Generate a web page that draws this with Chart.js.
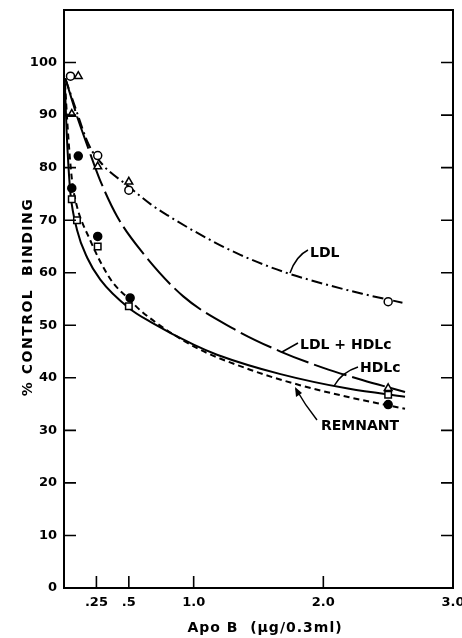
<!DOCTYPE html>
<html>
<head>
<meta charset="utf-8">
<script src="https://cdn.jsdelivr.net/npm/chart.js@4/dist/chart.umd.min.js"></script>
<style>
  body { margin: 0; background: #fff; }
  #grafico { display: block; }
</style>
</head>
<body>
<canvas id="grafico" width="462" height="638"></canvas>
<script>
// Valores (Apo B en ug/0.3ml, % de union control)
const xTicks = [0.25, 0.5, 1.0, 2.0, 3.0];
const xTickLabels = ['.25', '.5', '1.0', '2.0', '3.0'];
const yTicks = [0, 10, 20, 30, 40, 50, 60, 70, 80, 90, 100];
const seriesNames = ['LDL', 'LDL + HDLc', 'HDLc', 'REMNANT'];

// curvas ajustadas
const ldlCurveX = [0.01, 0.1, 0.19, 0.3, 0.49, 0.67, 0.8, 1.1, 1.36, 1.69, 2.0, 2.3, 2.61];
const ldlCurveY = [97, 90.5, 84.4, 80.5, 76.6, 73.0, 70.9, 66.6, 63.4, 60.2, 57.9, 56.0, 54.3];

const mixCurveX = [0.01, 0.05, 0.1, 0.18, 0.28, 0.41, 0.6, 0.92, 1.31, 1.67, 2.0, 2.3, 2.63];
const mixCurveY = [97, 93.8, 89.8, 84.2, 77.5, 70.7, 64.0, 55.5, 49.3, 45.0, 41.9, 39.6, 37.3];

const hdlCurveX = [0.005, 0.02, 0.035, 0.05, 0.1, 0.18, 0.28, 0.5, 0.67, 1.0, 1.18, 1.67, 2.2, 2.63];
const hdlCurveY = [97, 87, 80, 75, 68.2, 62.8, 58.7, 53.3, 50.6, 46.3, 44.4, 40.7, 37.9, 36.4];

const remCurveX = [0.008, 0.03, 0.06, 0.09, 0.2, 0.36, 0.5, 0.6, 1.0, 1.44, 1.82, 2.2, 2.49, 2.63];
const remCurveY = [96, 87, 78, 73.6, 66.3, 58.7, 55.0, 52.6, 46.0, 41.5, 38.6, 36.3, 34.8, 34.1];

// puntos medidos
const ldlX = [0.05, 0.26, 0.5, 2.5];
const ldlY = [97.4, 82.3, 75.7, 54.5];
const mixX = [0.11, 0.06, 0.26, 0.5, 2.5];
const mixY = [97.4, 90.2, 80.2, 77.3, 38.0];
const hdlX = [0.06, 0.1, 0.26, 0.5, 2.5];
const hdlY = [74.0, 70.0, 65.0, 53.6, 36.8];
const remX = [0.06, 0.11, 0.26, 0.51, 2.5];
const remY = [76.1, 82.2, 66.9, 55.2, 34.9];

const pares = (xs, ys) => xs.map((v, i) => ({x: v, y: ys[i]}));

Chart.defaults.font.family = '"DejaVu Sans", sans-serif';
Chart.defaults.color = '#000';

function curva(xs, ys, dash) {
    return {
        data: pares(xs, ys),
        showLine: true,
        borderColor: '#000',
        borderWidth: 2,
        borderDash: dash,
        pointRadius: 0,
        cubicInterpolationMode: 'monotone',
        order: 2
    };
}

function puntos(xs, ys, estilo, relleno, radio) {
    return {
        data: pares(xs, ys),
        showLine: false,
        pointStyle: estilo,
        pointRadius: radio,
        pointBackgroundColor: relleno,
        pointBorderColor: '#000',
        pointBorderWidth: 1.5,
        order: 1
    };
}

// marco, marcas interiores y textos
const marcas = {
    id: 'marcas',
    afterDraw(chart) {
        const {ctx, chartArea: a, scales: {x, y}} = chart;
        ctx.save();
        ctx.strokeStyle = '#000';
        ctx.fillStyle = '#000';
        ctx.lineWidth = 2;
        ctx.strokeRect(a.left, a.top, a.right - a.left, a.bottom - a.top);

        ctx.lineWidth = 1.6;
        ctx.beginPath();
        yTicks.slice(1).forEach(v => {
            const py = y.getPixelForValue(v);
            ctx.moveTo(a.left, py); ctx.lineTo(a.left + 12, py);
            ctx.moveTo(a.right, py); ctx.lineTo(a.right - 12, py);
        });
        xTicks.slice(0, -1).forEach(v => {
            const px = x.getPixelForValue(v);
            ctx.moveTo(px, a.bottom); ctx.lineTo(px, a.bottom - 12);
        });
        ctx.stroke();

        // etiquetas de las curvas
        ctx.font = 'bold 14px "DejaVu Sans"';
        ctx.textBaseline = 'middle';
        ctx.textAlign = 'left';
        ctx.fillText(seriesNames[0], 310, 253);
        ctx.fillText(seriesNames[1], 300, 345);
        ctx.fillText(seriesNames[2], 360, 368);
        ctx.fillText(seriesNames[3], 321, 426);

        ctx.lineWidth = 1.5;
        ctx.beginPath();
        ctx.moveTo(308, 250); ctx.quadraticCurveTo(296, 256, 290, 273);
        ctx.moveTo(298, 343); ctx.lineTo(282, 352);
        ctx.moveTo(358, 367); ctx.quadraticCurveTo(342, 372, 334, 386);
        ctx.moveTo(317, 420); ctx.quadraticCurveTo(305, 405, 296, 389);
        ctx.stroke();
        // punta de flecha REMNANT
        ctx.beginPath();
        ctx.moveTo(295, 387); ctx.lineTo(296, 397); ctx.lineTo(302, 393);
        ctx.closePath();
        ctx.fill();

        // titulos de los ejes
        ctx.letterSpacing = '1px';
        ctx.textAlign = 'center';
        ctx.fillText('Apo B  (\u03bcg/0.3ml)', 265, 628);
        ctx.translate(28, 297);
        ctx.rotate(-Math.PI / 2);
        ctx.letterSpacing = '1.5px';
        ctx.fillText('% CONTROL  BINDING', 0, 0);
        ctx.restore();
    }
};

const ctx = document.getElementById('grafico');

new Chart(ctx, {
    type: 'scatter',
    data: {
        datasets: [
            curva(ldlCurveX, ldlCurveY, [11, 4, 2, 4]),
            curva(mixCurveX, mixCurveY, [34, 6]),
            curva(hdlCurveX, hdlCurveY, []),
            curva(remCurveX, remCurveY, [6, 4]),
            puntos(ldlX, ldlY, 'circle', '#fff', 4),
            puntos(mixX, mixY, 'triangle', '#fff', 4.5),
            puntos(hdlX, hdlY, 'rect', '#fff', 4.6),
            puntos(remX, remY, 'circle', '#000', 4)
        ]
    },
    options: {
        responsive: false,
        devicePixelRatio: 1,
        animation: false,
        layout: { padding: { top: 10, right: 9, left: 0, bottom: 0 } },
        plugins: { legend: { display: false }, tooltip: { enabled: false } },
        scales: {
            x: {
                type: 'linear',
                min: 0,
                max: 3,
                afterBuildTicks: s => { s.ticks = xTicks.map(v => ({value: v})); },
                afterFit: s => { s.height = 50; s.paddingLeft = 0; s.paddingRight = 0; },
                grid: { display: false, drawTicks: false },
                border: { display: false },
                ticks: {
                    padding: 7,
                    maxRotation: 0,
                    font: { size: 13, weight: 'bold' },
                    callback: v => xTickLabels[xTicks.indexOf(v)]
                }
            },
            y: {
                min: 0,
                max: 110,
                afterBuildTicks: s => { s.ticks = yTicks.map(v => ({value: v})); },
                afterFit: s => { s.width = 64; s.paddingTop = 0; s.paddingBottom = 0; },
                grid: { display: false, drawTicks: false },
                border: { display: false },
                ticks: {
                    padding: 7,
                    font: { size: 13, weight: 'bold' }
                }
            }
        }
    },
    plugins: [marcas]
});
</script>
</body>
</html>
